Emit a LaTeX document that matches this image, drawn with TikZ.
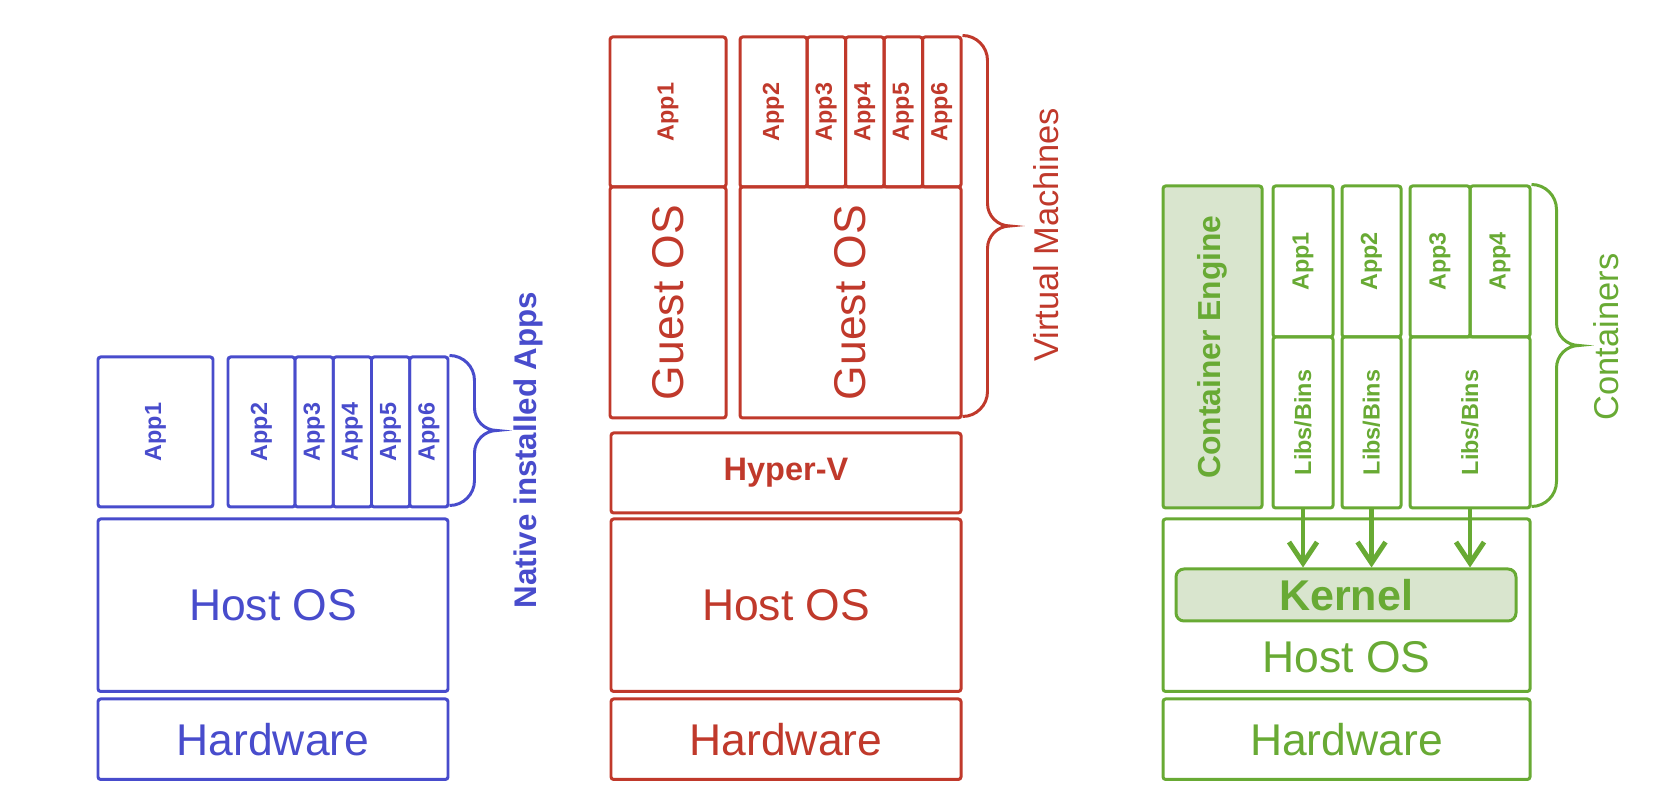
\documentclass[tikz,border=0pt]{standalone}
\usepackage{fontspec}
\setmainfont{Liberation Sans}
\usepackage{graphicx}
\usetikzlibrary{arrows.meta}

\definecolor{nativeblue}{RGB}{72,76,204}
\definecolor{vmred}{RGB}{192,57,43}
\definecolor{ctgreen}{RGB}{104,170,52}
\definecolor{ctfill}{RGB}{217,229,206}

\newcommand{\vtext}[1]{\rotatebox{90}{#1}}
% brace on the right of a stack: start point, height
\newcommand{\vbrace}[2]{%
	\draw[line width=1.7pt] (#1)
		arc[start angle=90, end angle=0, radius=0.5]
		-- ++(0,{-(#2)/2+0.95})
		arc[start angle=180, end angle=270, radius=0.45]
		arc[start angle=90, end angle=180, radius=0.45]
		-- ++(0,{-(#2)/2+0.95})
		arc[start angle=0, end angle=-90, radius=0.5];}

\tikzset{
	box/.style={draw, line width=1.7pt, rounded corners=1.5pt, inner sep=0pt},
	txtbig/.style={font=\fontsize{25.3}{30}\selectfont},
	txtmid/.style={font=\fontsize{19.6}{24}\selectfont},
	txtsmall/.style={font=\fontsize{13.3}{16}\selectfont\bfseries},
	flow/.style={line width=2.8pt, -{Straight Barb[length=0.42cm, width=0.56cm]}}
}

\begin{document}
\begin{tikzpicture}
	\useasboundingbox (0,0) rectangle (33.36,16);

	\begin{scope}[nativeblue]
		\node[box, txtsmall, minimum width=2.30cm, minimum height=3cm] (napp1) at (3.11,7.36) {\vtext{App1}};
		\node[box, txtsmall, minimum width=1.34cm, minimum height=3cm] (napp2) at (5.23,7.36) {\vtext{App2}};
		\foreach \i/\x in {3/6.2825, 4/7.0475, 5/7.8125, 6/8.5775}
			\node[box, txtsmall, minimum width=0.765cm, minimum height=3cm] (napp\i) at (\x,7.36) {\vtext{App\i}};
		\node[box, txtbig, minimum width=7cm, minimum height=3.45cm] (nhost) at (5.46,3.895) {Host OS};
		\node[box, txtbig, minimum width=7cm, minimum height=1.61cm] (nhw) at (5.46,1.215) {Hardware};
		\vbrace{napp6.north east}{3}
		\node[font=\fontsize{17.8}{21}\selectfont\bfseries, rotate=90] (nlabel) at (10.56,7.0) {Native installed Apps};
	\end{scope}

	\begin{scope}[vmred]
		\node[box, txtsmall, minimum width=2.32cm, minimum height=3cm] (vapp1) at (13.36,13.76) {\vtext{App1}};
		\node[box, txtbig, minimum width=2.32cm, minimum height=4.62cm] (vguest1) at (13.36,9.95) {\vtext{Guest OS}};
		\node[box, txtsmall, minimum width=1.34cm, minimum height=3cm] (vapp2) at (15.47,13.76) {\vtext{App2}};
		\foreach \i/\x in {3/16.525, 4/17.295, 5/18.065, 6/18.835}
			\node[box, txtsmall, minimum width=0.77cm, minimum height=3cm] (vapp\i) at (\x,13.76) {\vtext{App\i}};
		\node[box, txtbig, minimum width=4.42cm, minimum height=4.62cm] (vguest2) at (17.01,9.95) {\vtext{Guest OS}};
		\node[box, font=\fontsize{18.5}{22}\selectfont\bfseries, minimum width=7cm, minimum height=1.6cm] (vhyper) at (15.72,6.54) {Hyper-V};
		\node[box, txtbig, minimum width=7cm, minimum height=3.45cm] (vhost) at (15.72,3.895) {Host OS};
		\node[box, txtbig, minimum width=7cm, minimum height=1.61cm] (vhw) at (15.72,1.215) {Hardware};
		\vbrace{vapp6.north east}{7.62}
		\node[txtmid, rotate=90] (vlabel) at (20.92,11.30) {Virtual Machines};
	\end{scope}

	\begin{scope}[ctgreen]
		\node[box, fill=ctfill, font=\fontsize{18.1}{22}\selectfont\bfseries, minimum width=1.98cm, minimum height=6.44cm] (gengine) at (24.25,9.06) {\vtext{Container Engine}};
		\node[box, txtsmall, minimum width=1.20cm, minimum height=3.02cm] (gapp1) at (26.06,10.77) {\vtext{App1}};
		\node[box, txtsmall, minimum width=1.20cm, minimum height=3.42cm] (glibs1) at (26.06,7.55) {\vtext{Libs/Bins}};
		\node[box, txtsmall, minimum width=1.18cm, minimum height=3.02cm] (gapp2) at (27.43,10.77) {\vtext{App2}};
		\node[box, txtsmall, minimum width=1.18cm, minimum height=3.42cm] (glibs2) at (27.43,7.55) {\vtext{Libs/Bins}};
		\node[box, txtsmall, minimum width=1.20cm, minimum height=3.02cm] (gapp3) at (28.80,10.77) {\vtext{App3}};
		\node[box, txtsmall, minimum width=1.20cm, minimum height=3.02cm] (gapp4) at (30.00,10.77) {\vtext{App4}};
		\node[box, txtsmall, minimum width=2.40cm, minimum height=3.42cm] (glibs3) at (29.40,7.55) {\vtext{Libs/Bins}};
		\node[box, minimum width=7.34cm, minimum height=3.45cm] (ghost) at (26.93,3.895) {};
		\node[box, fill=ctfill, rounded corners=0.16cm, font=\fontsize{24.5}{29}\selectfont\bfseries, minimum width=6.8cm, minimum height=1.04cm] (gkernel) at (26.92,4.10) {Kernel};
		\node[txtbig] (ghostlbl) at (26.93,2.86) {Host OS};
		\node[box, txtbig, minimum width=7.34cm, minimum height=1.61cm] (ghw) at (26.93,1.215) {Hardware};
		\foreach \c in {glibs1, glibs2, glibs3}
			\draw[flow] (\c.south) -- (\c.south |- gkernel.north);
		\vbrace{gapp4.north east}{6.44}
		\node[txtmid, rotate=90] (glabel) at (32.12,9.26) {Containers};
	\end{scope}
\end{tikzpicture}
\end{document}
